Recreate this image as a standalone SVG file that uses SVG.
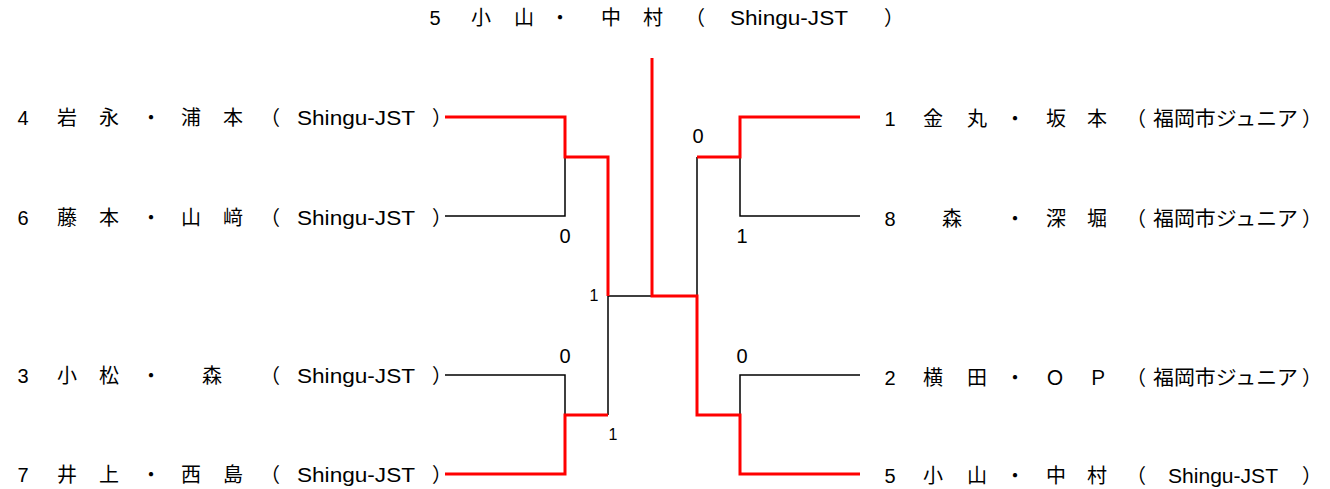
<svg xmlns="http://www.w3.org/2000/svg" width="1330" height="489" viewBox="0 0 1330 489">
<style>
text{font-family:"Liberation Sans","Noto Sans CJK JP",sans-serif;font-size:20px;fill:#000}
.c{text-anchor:middle}
.lbl{font-size:20px;text-anchor:middle}
.sm{font-size:16px;text-anchor:middle}
.r{fill:none;stroke:#ff0000;stroke-width:3}
.k{fill:none;stroke:#000;stroke-width:1.5}
</style>
<rect width="1330" height="489" fill="#fff"/>
<g id="champion">
<text class="c" x="435" y="25">5</text><text class="c" x="481" y="25">小</text><text class="c" x="524" y="25">山</text><text class="c" x="560" y="25">・</text><text class="c" x="611" y="25">中</text><text class="c" x="653" y="25">村</text><text x="685" y="25">（</text><text x="730" y="25" textLength="118" lengthAdjust="spacingAndGlyphs">Shingu-JST</text><text x="884" y="25">）</text>
</g>
<g id="p4">
<text class="c" x="23" y="125">4</text><text class="c" x="67" y="125">岩</text><text class="c" x="109" y="125">永</text><text class="c" x="151" y="125">・</text><text class="c" x="191" y="125">浦</text><text class="c" x="233" y="125">本</text><text x="260" y="125">（</text><text x="297" y="125" textLength="118" lengthAdjust="spacingAndGlyphs">Shingu-JST</text><text x="432" y="125">）</text>
</g>
<g id="p6">
<text class="c" x="23" y="225">6</text><text class="c" x="67" y="225">藤</text><text class="c" x="109" y="225">本</text><text class="c" x="151" y="225">・</text><text class="c" x="191" y="225">山</text><text class="c" x="233" y="225">﨑</text><text x="260" y="225">（</text><text x="297" y="225" textLength="118" lengthAdjust="spacingAndGlyphs">Shingu-JST</text><text x="432" y="225">）</text>
</g>
<g id="p3">
<text class="c" x="23" y="383">3</text><text class="c" x="67" y="383">小</text><text class="c" x="109" y="383">松</text><text class="c" x="151" y="383">・</text><text class="c" x="212" y="383">森</text><text x="260" y="383">（</text><text x="297" y="383" textLength="118" lengthAdjust="spacingAndGlyphs">Shingu-JST</text><text x="432" y="383">）</text>
</g>
<g id="p7">
<text class="c" x="23" y="482">7</text><text class="c" x="67" y="482">井</text><text class="c" x="109" y="482">上</text><text class="c" x="151" y="482">・</text><text class="c" x="191" y="482">西</text><text class="c" x="233" y="482">島</text><text x="260" y="482">（</text><text x="297" y="482" textLength="118" lengthAdjust="spacingAndGlyphs">Shingu-JST</text><text x="432" y="482">）</text>
</g>
<g id="p1">
<text class="c" x="890" y="126">1</text><text class="c" x="933" y="126">金</text><text class="c" x="977" y="126">丸</text><text class="c" x="1015" y="126">・</text><text class="c" x="1056" y="126">坂</text><text class="c" x="1097" y="126">本</text><text x="1126" y="126">（</text><text x="1153" y="126" textLength="145" lengthAdjust="spacingAndGlyphs">福岡市ジュニア</text><text x="1302" y="126">）</text>
</g>
<g id="p8">
<text class="c" x="890" y="226">8</text><text class="c" x="952" y="226">森</text><text class="c" x="1015" y="226">・</text><text class="c" x="1056" y="226">深</text><text class="c" x="1097" y="226">堀</text><text x="1126" y="226">（</text><text x="1153" y="226" textLength="145" lengthAdjust="spacingAndGlyphs">福岡市ジュニア</text><text x="1302" y="226">）</text>
</g>
<g id="p2">
<text class="c" x="890" y="385">2</text><text class="c" x="933" y="385">横</text><text class="c" x="977" y="385">田</text><text class="c" x="1015" y="385">・</text><text class="c" x="1055" y="385">Ｏ</text><text class="c" x="1098" y="385">Ｐ</text><text x="1126" y="385">（</text><text x="1153" y="385" textLength="145" lengthAdjust="spacingAndGlyphs">福岡市ジュニア</text><text x="1302" y="385">）</text>
</g>
<g id="p5">
<text class="c" x="890" y="483">5</text><text class="c" x="933" y="483">小</text><text class="c" x="977" y="483">山</text><text class="c" x="1015" y="483">・</text><text class="c" x="1056" y="483">中</text><text class="c" x="1097" y="483">村</text><text x="1126" y="483">（</text><text x="1168" y="483" textLength="110" lengthAdjust="spacingAndGlyphs">Shingu-JST</text><text x="1302" y="483">）</text>
</g>
<g id="connectors">
<path class="k" d="M445,216 H565 V157"/>
<path class="k" d="M445,375 H565 V415"/>
<path class="k" d="M608,415 V296 H652"/>
<path class="k" d="M697,157 V296"/>
<path class="k" d="M860,216 H740 V157"/>
<path class="k" d="M860,375 H740 V415"/>
<path class="r" d="M445,117 H565 V157 H608 V296"/>
<path class="r" d="M445,474 H565 V415 H608"/>
<path class="r" d="M652,58 V296 H697 V415 H740 V474 H860"/>
<path class="r" d="M697,157 H740 V117 H860"/>
</g>
<g id="scores">
<text class="lbl" x="565" y="243">0</text>
<text class="sm" x="594" y="301">1</text>
<text class="lbl" x="565" y="363">0</text>
<text class="sm" x="613" y="440">1</text>
<text class="lbl" x="698" y="143">0</text>
<text class="lbl" x="742" y="243">1</text>
<text class="lbl" x="742" y="363">0</text>
</g>
</svg>
